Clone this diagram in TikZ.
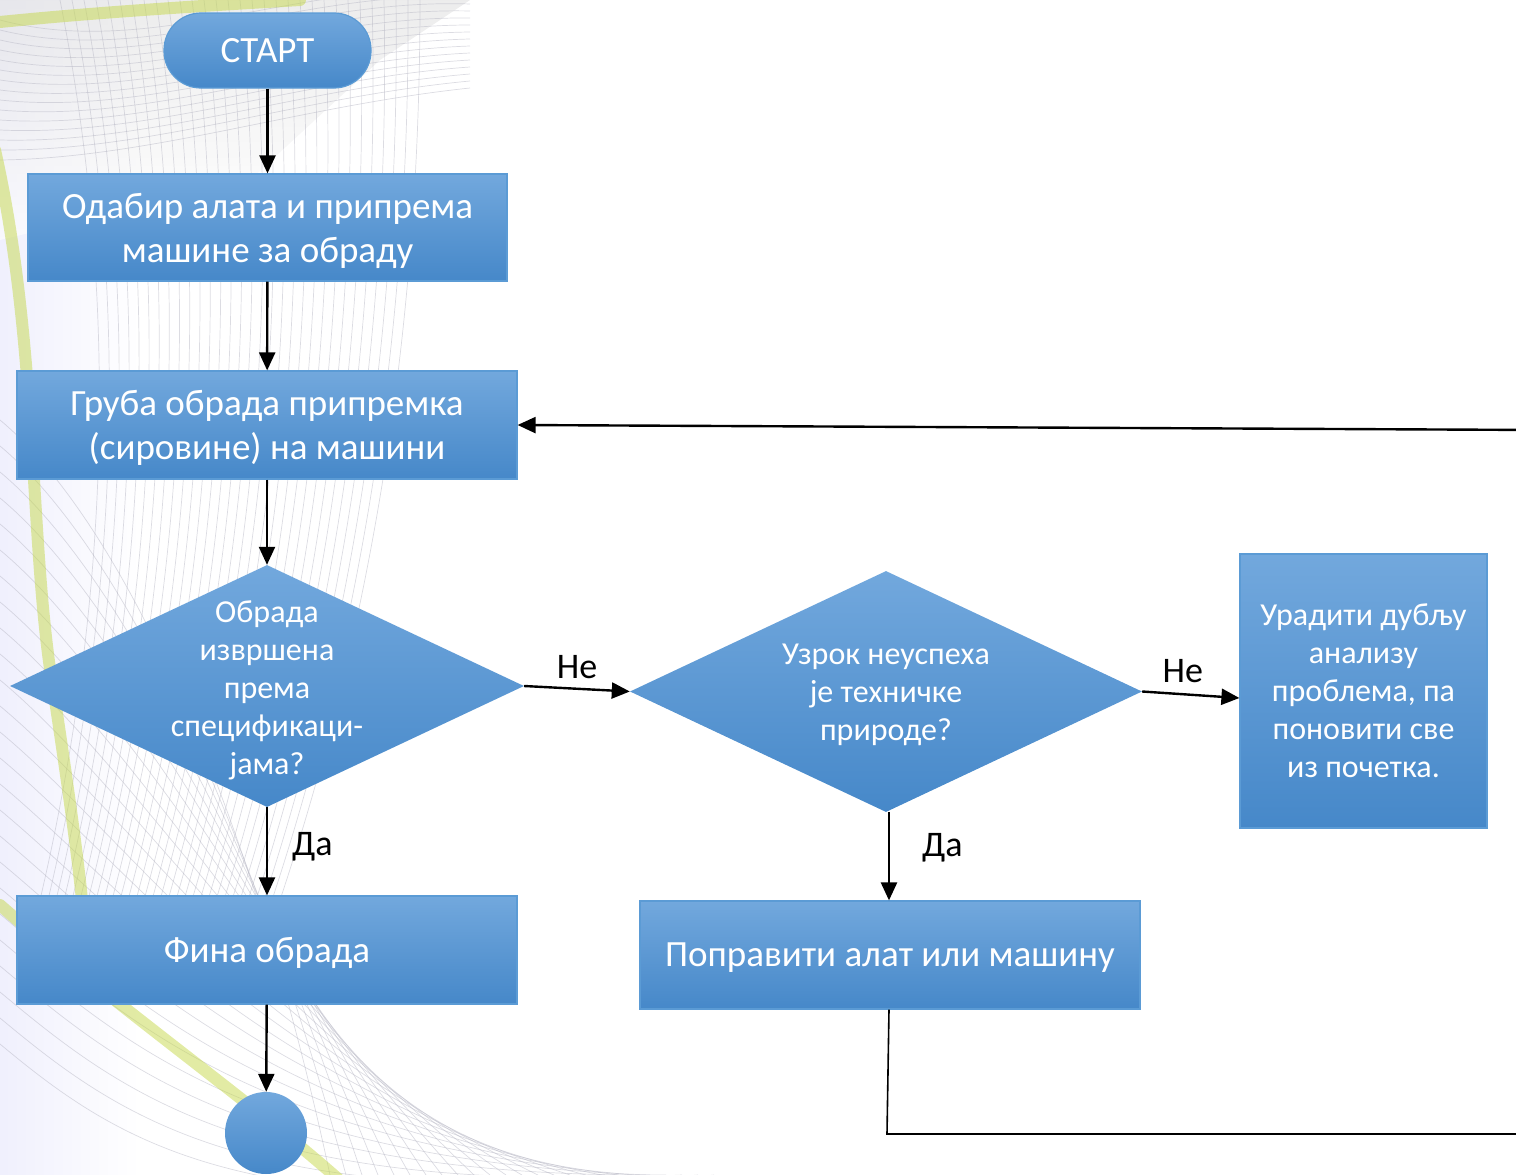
\documentclass[tikz,border=0pt]{standalone}
\usepackage{fontspec}
\setmainfont{Carlito}
\usetikzlibrary{arrows.meta,shapes.geometric,calc}
\definecolor{btop}{HTML}{72A8DD}
\definecolor{bbot}{HTML}{4688C9}
\definecolor{bedge}{HTML}{5B9BD5}
\definecolor{ygreen}{HTML}{C5D84A}
\definecolor{bgline}{HTML}{B9B9C6}
\tikzset{
  box/.style={rectangle, draw=bedge, line width=1.2pt, top color=btop, bottom color=bbot,
    text=white, align=center, inner sep=0pt, text depth=0pt, font=\fontsize{37}{44}\selectfont},
  dia/.style={diamond, draw=none, top color=btop, bottom color=bbot, inner sep=0pt},
  diatext/.style={text=white, align=center, inner sep=0pt, font=\fontsize{32}{38}\selectfont},
  conn/.style={line width=2.4pt, -{Triangle[length=18pt,width=16pt]}},
  lbl/.style={text=black, inner sep=0pt, font=\fontsize{36}{42}\selectfont},
  bgl/.style={bgline, line width=0.7pt, opacity=0.5},
  yband/.style={ygreen, line width=12pt, opacity=0.5, line cap=round}
}
\begin{document}
\begin{tikzpicture}[x=1pt,y=-1pt]
\useasboundingbox (0,0) rectangle (1516,1175);
\clip (0,0) rectangle (1516,1175);
% ---- decorative background ----
\shade[left color=black!14!blue!6!white, right color=white] (0,0) rectangle (140,1175);
\shade[top color=black!12, bottom color=white, opacity=0.6] (0,0) -- (470,0) -- (380,60) -- (250,180) -- (0,240) -- cycle;
\foreach \i in {0,...,30}{
  \draw[bgl] (60+12*\i,0) .. controls (120+10*\i,300) and (110+9*\i,600) .. (40+8*\i,900);
}
\foreach \i in {0,...,24}{
  \draw[bgl] (0,420+26*\i) .. controls (120,520+26*\i) and (250,800+18*\i) .. (330+16*\i,1175);
}
\foreach \i in {0,...,14}{
  \draw[bgl] (0,20+10*\i) .. controls (150,60+7*\i) and (300,-20+9*\i) .. (470,-10+7*\i);
}
\draw[yband] (0,22) .. controls (100,12) and (200,6) .. (300,0);
\draw[yband] (-5,150) .. controls (40,350) and (28,550) .. (55,700) .. controls (70,800) and (78,860) .. (82,900);
\draw[yband] (0,905) .. controls (120,1010) and (250,1100) .. (345,1185);
% ---- flowchart ----
\node[box, rounded corners=37pt, minimum width=207pt, minimum height=75pt, text depth=, font=\fontsize{37}{42}\selectfont] (start) at (267.5,50.5) {СТАРТ};
\node[box, minimum width=479pt, minimum height=107pt] (odabir) at (267.5,227.5) {Одабир алата и припрема\\машине за обраду};
\node[box, minimum width=500pt, minimum height=108pt] (gruba) at (267,425) {Груба обрада припремка\\(сировине) на машини};
\node[dia, minimum width=514pt, minimum height=242pt] (d1) at (267,686) {};
\node[diatext] (d1t) at (267,690) {Обрада\\извршена\\према\\спецификаци-\\јама?};
\node[dia, minimum width=512pt, minimum height=241pt] (d2) at (886,691.5) {};
\node[diatext] (d2t) at (886,695) {Узрок неуспеха\\је техничке\\природе?};
\node[box, minimum width=247pt, minimum height=274pt, text depth=, font=\fontsize{32}{38}\selectfont] (dublja) at (1363.5,691) {Урадити дубљу\\анализу\\проблема, па\\поновити све\\из почетка.};
\node[box, minimum width=500pt, minimum height=108pt] (fina) at (267,950) {Фина обрада};
\node[box, minimum width=500pt, minimum height=108pt] (popravi) at (890,955) {Поправити алат или машину};
\node[circle, top color=btop, bottom color=bbot, minimum size=82pt, inner sep=0pt] (kraj) at (266,1133) {};
% ---- connectors ----
\draw[conn] (start) -- (odabir);
\draw[conn] (odabir) -- (gruba);
\draw[conn] (gruba) -- (d1.north);
\draw[conn] (d1.south) -- (fina) node[lbl, pos=0.45, right=24pt] (da1) {Да};
\draw[conn] (fina) -- (kraj);
\draw[conn] (d1.east) -- (d2.west) node[lbl, midway, above=9pt] (ne1) {Не};
\draw[conn] (d2.east) -- (dublja.west|-{0,698}) node[lbl, midway, above=11pt, xshift=-8pt] (ne2) {Не};
\draw[conn] ({889,0}|-d2.south) -- ({889,0}|-popravi.north) node[lbl, pos=0.4, right=32pt] (da2) {Да};
\coordinate (c1) at (887,1134);
\coordinate (c2) at (1540,1134);
\coordinate (c3) at (1540,430);
\draw[line width=1.6pt] (popravi.south-|{889,0}) -- (c1) -- (c2) -- (c3);
\draw[conn] (c3) -- (gruba.east);
\end{tikzpicture}
\end{document}
